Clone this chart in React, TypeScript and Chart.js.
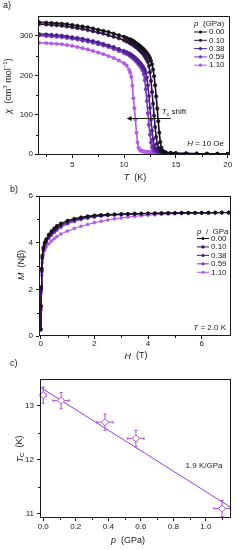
import React, { useEffect, useRef } from "react";
import { Chart, registerables } from "chart.js";

Chart.register(...registerables);

const FONT = "'Liberation Sans', Arial, Helvetica, sans-serif";
const INK = "#1a1a1a";

// ---------- Panel a : chi vs T ----------
const T_K = [
  1.8, 2.5, 3, 3.5, 4, 4.5, 5, 5.5, 6, 6.5, 7, 7.5, 8, 8.5, 9, 9.5, 10,
  10.25, 10.5, 10.6, 10.7, 10.8, 10.9, 11.0, 11.1, 11.2, 11.3, 11.4, 11.5, 11.6, 11.7, 11.8, 11.9,
  12.0, 12.1, 12.2, 12.3, 12.4, 12.5, 12.6, 12.7, 12.8, 12.9, 13.0, 13.1, 13.2, 13.3, 13.4, 13.5, 13.6, 13.7, 13.8,
  14, 14.5, 15, 16, 17, 18, 19, 20,
];
const CHI_P000 = [
  335, 334, 333, 332, 331, 330, 328, 326, 324, 322, 319, 316, 313, 310, 306, 302, 298,
  295, 292, 291, 290, 288, 287, 285, 283, 281, 279, 277, 275, 273, 271, 268, 266,
  263, 260, 257, 253, 249, 244, 237, 228, 215, 198, 175, 147, 116, 84, 55, 31, 17, 10, 7,
  5, 3.5, 2.5, 1.8, 1.3, 1, 0.8, 0.6,
];
const CHI_P010 = [
  330, 329, 328, 327, 326, 324, 322, 320, 318, 315, 312, 309, 306, 302, 298, 294, 289,
  286, 283, 282, 280, 279, 277, 275, 273, 271, 269, 267, 264, 262, 259, 256, 253,
  248, 244, 240, 234, 224, 208, 186, 158, 128, 98, 69, 44, 27, 17, 11, 8.5, 7, 6, 5.5,
  4.5, 3.5, 2.6, 1.9, 1.4, 1.1, 0.9, 0.7,
];
const CHI_P038 = [
  305, 304, 303, 302, 301, 299, 297, 295, 293, 290, 287, 284, 280, 276, 272, 267, 262,
  259, 256, 254, 252, 250, 248, 246, 244, 241, 239, 236, 233, 230, 227, 223, 219,
  214, 207, 195, 175, 148, 118, 88, 60, 38, 23, 15, 11, 9, 7.5, 6.5, 6, 5.5, 5, 4.5,
  4, 3, 2.2, 1.6, 1.2, 0.9, 0.7, 0.5,
];
const CHI_P059 = [
  301, 300, 299, 298, 297, 295, 293, 291, 288, 286, 283, 279, 276, 272, 267, 262, 257,
  254, 251, 249, 247, 245, 243, 240, 238, 235, 232, 229, 226, 222, 218, 212, 203,
  188, 165, 135, 104, 75, 50, 30, 18, 12, 9, 7.5, 6.5, 6, 5.5, 5, 4.8, 4.5, 4.3, 4,
  3.6, 2.8, 2.1, 1.5, 1.1, 0.9, 0.7, 0.5,
];
const CHI_P110 = [
  283, 282, 281, 280, 279, 277, 275, 272, 269, 266, 262, 258, 254, 249, 244, 238, 231,
  225, 214, 207, 196, 174, 142, 117, 88, 55, 30, 17, 12, 9.5, 8.5, 7.5, 7,
  6.5, 6.2, 6, 5.8, 5.6, 5.4, 5.2, 5, 4.9, 4.8, 4.6, 4.5, 4.4, 4.3, 4.2, 4.1, 4, 3.9, 3.8,
  3.6, 3, 2.4, 1.8, 1.4, 1.1, 0.9, 0.7,
];
const P_LABELS = ["0.00", "0.10", "0.38", "0.59", "1.10"];
const SERIES_COLORS = ["#141014", "#2c1448", "#4a2290", "#7a34c0", "#b45ae8"];
const X_TICKS_A = [5, 10, 15, 20];
const X_MINOR_A = [2.5, 7.5, 12.5, 17.5];
const Y_TICKS_A = [0, 100, 200, 300];
const Y_MINOR_A = [50, 150, 250];
const ARROW_T = [14.5, 10.25];
const ARROW_CHI = 93;

// ---------- Panel b : M vs H ----------
const H_T = [
  0, 0.01, 0.02, 0.04, 0.06, 0.1, 0.15, 0.2, 0.3, 0.4, 0.5, 0.6, 0.75,
  1.0, 1.25, 1.5, 1.75, 2.0, 2.25, 2.5, 2.75, 3.0, 3.25, 3.5, 3.75, 4.0, 4.25, 4.5, 4.75,
  5.0, 5.25, 5.5, 5.75, 6.0, 6.25, 6.5, 6.75, 7.0,
];
const M_P000 = [
  0.3, 1.3, 2.1, 2.9, 3.45, 3.8, 4.02, 4.15, 4.35, 4.5, 4.62, 4.72, 4.83,
  4.95, 5.03, 5.09, 5.14, 5.17, 5.19, 5.21, 5.22, 5.23, 5.24, 5.25, 5.25, 5.26, 5.26, 5.27, 5.27,
  5.27, 5.28, 5.28, 5.28, 5.28, 5.29, 5.29, 5.29, 5.29,
];
const M_P010 = [
  0.3, 1.28, 2.05, 2.85, 3.4, 3.75, 3.97, 4.1, 4.3, 4.45, 4.57, 4.67, 4.78,
  4.91, 5.0, 5.06, 5.11, 5.15, 5.18, 5.2, 5.21, 5.22, 5.23, 5.24, 5.25, 5.25, 5.26, 5.26, 5.27,
  5.27, 5.27, 5.28, 5.28, 5.28, 5.28, 5.29, 5.29, 5.29,
];
const M_P038 = [
  0.28, 1.25, 2.0, 2.8, 3.35, 3.7, 3.92, 4.05, 4.24, 4.38, 4.5, 4.6, 4.72,
  4.86, 4.96, 5.03, 5.08, 5.12, 5.15, 5.18, 5.2, 5.21, 5.22, 5.23, 5.24, 5.25, 5.25, 5.26, 5.26,
  5.27, 5.27, 5.27, 5.28, 5.28, 5.28, 5.28, 5.29, 5.29,
];
const M_P059 = [
  0.27, 1.2, 1.95, 2.75, 3.3, 3.65, 3.87, 4.0, 4.18, 4.32, 4.44, 4.54, 4.66,
  4.81, 4.91, 4.99, 5.05, 5.1, 5.14, 5.17, 5.19, 5.2, 5.21, 5.22, 5.23, 5.24, 5.25, 5.25, 5.26,
  5.26, 5.27, 5.27, 5.27, 5.28, 5.28, 5.28, 5.28, 5.29,
];
const M_P110 = [
  0.25, 1.1, 1.85, 2.6, 3.15, 3.5, 3.68, 3.8, 3.95, 4.07, 4.17, 4.26, 4.37,
  4.5, 4.61, 4.7, 4.78, 4.86, 4.92, 4.97, 5.02, 5.06, 5.1, 5.13, 5.16, 5.18, 5.2, 5.22, 5.23,
  5.24, 5.25, 5.26, 5.26, 5.27, 5.27, 5.28, 5.28, 5.28,
];
const X_TICKS_B = [0, 2, 4, 6];
const X_MINOR_B = [1, 3, 5];
const Y_TICKS_B = [0, 2, 4, 6];
const Y_MINOR_B = [1, 3, 5];

// ---------- Panel c : Tc vs p ----------
const P_GPA = [0.0, 0.11, 0.38, 0.57, 1.1];
const TC_K = [13.2, 13.1, 12.7, 12.4, 11.1];
const P_ERR = [0.02, 0.05, 0.05, 0.05, 0.05];
const TC_ERR = [0.15, 0.15, 0.15, 0.15, 0.15];
const FIT_P = [-0.02, 1.155];
const FIT_TC = [13.35, 11.12];
const X_TICKS_C = [0, 0.2, 0.4, 0.6, 0.8, 1.0];
const X_MINOR_C = [0.1, 0.3, 0.5, 0.7, 0.9, 1.1];
const Y_TICKS_C = [11, 12, 13];
const Y_MINOR_C = [11.5, 12.5];
const C_POINT = "#b24ee2";
const C_LINE = "#9a3ed8";

// ---------- helpers ----------
type Part = { t: string; i?: boolean; sub?: boolean; sup?: boolean };

function fontFor(p: Part, size: number) {
  const s = p.sub || p.sup ? size * 0.68 : size;
  return `${p.i ? "italic " : ""}${s}px ${FONT}`;
}

function drawRich(
  ctx: CanvasRenderingContext2D,
  parts: Part[],
  x: number,
  y: number,
  size: number,
  align: "left" | "center" | "right",
  rotate = 0
) {
  ctx.save();
  ctx.translate(x, y);
  if (rotate) ctx.rotate(rotate);
  const widths = parts.map((p) => {
    ctx.font = fontFor(p, size);
    return ctx.measureText(p.t).width;
  });
  const total = widths.reduce((a, b) => a + b, 0);
  let cx = align === "left" ? 0 : align === "center" ? -total / 2 : -total;
  ctx.textBaseline = "middle";
  ctx.textAlign = "left";
  ctx.fillStyle = INK;
  parts.forEach((p, k) => {
    ctx.font = fontFor(p, size);
    const dy = p.sub ? size * 0.3 : p.sup ? -size * 0.35 : 0;
    ctx.fillText(p.t, cx, dy);
    cx += widths[k];
  });
  ctx.restore();
}

function drawFrame(chart: any, minorX: number[], minorY: number[]) {
  const { ctx, chartArea: a, scales } = chart;
  ctx.save();
  ctx.strokeStyle = INK;
  ctx.lineWidth = 1;
  const x0 = Math.round(a.left) + 0.5;
  const x1 = Math.round(a.right) - 0.5;
  const y0 = Math.round(a.top) + 0.5;
  const y1 = Math.round(a.bottom) - 0.5;
  ctx.strokeRect(x0, y0, x1 - x0, y1 - y0);
  ctx.beginPath();
  minorX.forEach((v) => {
    const px = Math.round(scales.x.getPixelForValue(v)) + 0.5;
    ctx.moveTo(px, Math.round(a.bottom));
    ctx.lineTo(px, Math.round(a.bottom) + 2);
  });
  minorY.forEach((v) => {
    const py = Math.round(scales.y.getPixelForValue(v)) + 0.5;
    ctx.moveTo(Math.round(a.left), py);
    ctx.lineTo(Math.round(a.left) - 2, py);
  });
  ctx.stroke();
  ctx.restore();
}

function drawLegend(ctx: CanvasRenderingContext2D, title: Part[], x: number, yTitle: number, y0: number, step: number, lineLen: number) {
  drawRich(ctx, title, x, yTitle, 8, "left");
  P_LABELS.forEach((lab, k) => {
    const y = y0 + k * step;
    ctx.save();
    ctx.strokeStyle = SERIES_COLORS[k];
    ctx.fillStyle = SERIES_COLORS[k];
    ctx.lineWidth = 1;
    ctx.beginPath();
    ctx.moveTo(x, y);
    ctx.lineTo(x + lineLen, y);
    ctx.stroke();
    ctx.beginPath();
    ctx.arc(x + lineLen / 2, y, 1.6, 0, Math.PI * 2);
    ctx.fill();
    ctx.restore();
    drawRich(ctx, [{ t: lab }], x + lineLen + 2, y, 8, "left");
  });
}

function axis(min: number, max: number, ticks: number[], size: number, horizontal: boolean, pad: number, fmt?: (v: number) => string) {
  const t: any = {
    color: INK,
    font: { family: FONT, size: 8, lineHeight: 1 },
    padding: pad,
    maxRotation: 0,
    minRotation: 0,
    autoSkip: false,
  };
  if (fmt) t.callback = (v: any) => fmt(Number(v));
  return {
    type: "linear",
    min,
    max,
    bounds: "data",
    afterBuildTicks: (s: any) => {
      s.ticks = ticks.map((v) => ({ value: v }));
    },
    afterFit: (s: any) => {
      if (horizontal) s.height = size;
      else s.width = size;
    },
    grid: { drawOnChartArea: false, drawTicks: true, tickLength: 3, color: INK, lineWidth: 1 },
    border: { display: false },
    ticks: t,
    title: { display: false },
  };
}

function seriesDatasets(xs: number[], ys: number[][], radius: number, lineW: number) {
  return ys.map((arr, k) => ({
    label: P_LABELS[k],
    data: xs.map((x, i) => ({ x, y: arr[i] })),
    showLine: true,
    borderColor: SERIES_COLORS[k],
    backgroundColor: SERIES_COLORS[k],
    borderWidth: lineW,
    pointRadius: radius,
    pointBorderWidth: 0.6,
    pointBorderColor: SERIES_COLORS[k],
    pointBackgroundColor: SERIES_COLORS[k],
    tension: 0,
  }));
}

const baseOptions = {
  responsive: false,
  maintainAspectRatio: false,
  animation: false,
  devicePixelRatio: 1,
  events: [],
};

function buildA() {
  return {
    type: "scatter",
    data: {
      datasets: seriesDatasets(T_K, [CHI_P000, CHI_P010, CHI_P038, CHI_P059, CHI_P110], 1.7, 1.6),
    },
    options: {
      ...baseOptions,
      layout: { padding: { left: 0, right: 10, top: 16, bottom: 0 } },
      scales: {
        x: axis(1.7, 20.22, X_TICKS_A, 27, true, 3),
        y: axis(-1.8, 350.7, Y_TICKS_A, 38, false, 2),
      },
      plugins: { legend: { display: false }, tooltip: { enabled: false } },
    },
    plugins: [
      {
        id: "decoA",
        afterDraw(chart: any) {
          const { ctx, chartArea: a, scales } = chart;
          drawFrame(chart, X_MINOR_A, Y_MINOR_A);
          drawRich(ctx, [{ t: "a)" }], 3, 6, 9, "left");
          drawRich(ctx, [{ t: "T", i: true }, { t: "  (K)" }], 135, 177.5, 9, "center");
          drawRich(
            ctx,
            [{ t: "χ", i: true }, { t: "  (cm" }, { t: "3", sup: true }, { t: " mol" }, { t: "−1", sup: true }, { t: ")" }],
            8.5,
            86,
            9,
            "center",
            -Math.PI / 2
          );
          drawLegend(ctx, [{ t: "p", i: true }, { t: "  (GPa)" }], 194, 23.3, 32, 8.3, 13);
          drawRich(ctx, [{ t: "H", i: true }, { t: " = 10 Oe" }], a.right - 6, a.bottom - 11, 8, "right");
          // Tc shift arrow
          const xa = scales.x.getPixelForValue(ARROW_T[0]);
          const xb = scales.x.getPixelForValue(ARROW_T[1]);
          const ya = Math.round(scales.y.getPixelForValue(ARROW_CHI)) + 0.5;
          ctx.save();
          ctx.strokeStyle = INK;
          ctx.fillStyle = INK;
          ctx.lineWidth = 1;
          ctx.beginPath();
          ctx.moveTo(xa, ya);
          ctx.lineTo(xb + 4, ya);
          ctx.stroke();
          ctx.beginPath();
          ctx.moveTo(xb, ya);
          ctx.lineTo(xb + 5, ya - 2.5);
          ctx.lineTo(xb + 5, ya + 2.5);
          ctx.closePath();
          ctx.fill();
          ctx.restore();
          drawRich(
            ctx,
            [{ t: "T", i: true }, { t: "c", sub: true }, { t: " shift" }],
            scales.x.getPixelForValue(13.63),
            scales.y.getPixelForValue(108),
            8,
            "left"
          );
        },
      },
    ],
  };
}

function buildB() {
  return {
    type: "scatter",
    data: {
      datasets: seriesDatasets(H_T, [M_P000, M_P010, M_P038, M_P059, M_P110], 1.5, 1.1),
    },
    options: {
      ...baseOptions,
      layout: { padding: { left: 0, right: 9, top: 14, bottom: 0 } },
      scales: {
        x: axis(-0.063, 7.09, X_TICKS_B, 26, true, 1),
        y: axis(0, 6, Y_TICKS_B, 39, false, 3),
      },
      plugins: { legend: { display: false }, tooltip: { enabled: false } },
    },
    plugins: [
      {
        id: "decoB",
        afterDraw(chart: any) {
          const { ctx, chartArea: a } = chart;
          drawFrame(chart, X_MINOR_B, Y_MINOR_B);
          drawRich(ctx, [{ t: "b)" }], 10, 8, 9, "left");
          drawRich(ctx, [{ t: "H", i: true }, { t: "  (T)" }], 136, 174, 9, "center");
          drawRich(ctx, [{ t: "M", i: true }, { t: "  (Nβ)" }], 21.5, 83, 9, "center", -Math.PI / 2);
          drawLegend(ctx, [{ t: "p", i: true }, { t: "  /  GPa" }], 197, 49.5, 56.5, 8.45, 12);
          drawRich(ctx, [{ t: "T", i: true }, { t: " = 2.0 K" }], a.right - 5, a.bottom - 8.5, 8, "right");
        },
      },
    ],
  };
}

function buildC() {
  return {
    type: "scatter",
    data: {
      datasets: [
        {
          label: "Tc",
          data: P_GPA.map((x, i) => ({ x, y: TC_K[i] })),
          showLine: false,
          pointStyle: "rectRot",
          pointRadius: 3.6,
          pointBorderWidth: 1,
          pointBorderColor: C_POINT,
          pointBackgroundColor: "#ffffff",
        },
        {
          label: "fit",
          data: FIT_P.map((x, i) => ({ x, y: FIT_TC[i] })),
          showLine: true,
          borderColor: C_LINE,
          borderWidth: 1,
          pointRadius: 0,
        },
      ],
    },
    options: {
      ...baseOptions,
      layout: { padding: { left: 0, right: 9, top: 24, bottom: 0 } },
      scales: {
        x: axis(-0.02, 1.155, X_TICKS_C, 32, true, 2, (v) => v.toFixed(1)),
        y: axis(10.925, 13.5, Y_TICKS_C, 40, false, 3, (v) => String(Math.round(v))),
      },
      plugins: { legend: { display: false }, tooltip: { enabled: false } },
    },
    plugins: [
      {
        id: "decoC",
        beforeDatasetsDraw(chart: any) {
          const { ctx, scales } = chart;
          ctx.save();
          ctx.strokeStyle = C_POINT;
          ctx.lineWidth = 1;
          ctx.beginPath();
          P_GPA.forEach((p, i) => {
            const cx = scales.x.getPixelForValue(p);
            const cy = scales.y.getPixelForValue(TC_K[i]);
            const xl = scales.x.getPixelForValue(p - P_ERR[i]);
            const xr = scales.x.getPixelForValue(p + P_ERR[i]);
            const yt = scales.y.getPixelForValue(TC_K[i] + TC_ERR[i]);
            const yb = scales.y.getPixelForValue(TC_K[i] - TC_ERR[i]);
            ctx.moveTo(xl, cy);
            ctx.lineTo(xr, cy);
            ctx.moveTo(xl, cy - 1.5);
            ctx.lineTo(xl, cy + 1.5);
            ctx.moveTo(xr, cy - 1.5);
            ctx.lineTo(xr, cy + 1.5);
            ctx.moveTo(cx, yt);
            ctx.lineTo(cx, yb);
            ctx.moveTo(cx - 1.5, yt);
            ctx.lineTo(cx + 1.5, yt);
            ctx.moveTo(cx - 1.5, yb);
            ctx.lineTo(cx + 1.5, yb);
          });
          ctx.stroke();
          ctx.restore();
        },
        afterDraw(chart: any) {
          const { ctx } = chart;
          drawFrame(chart, X_MINOR_C, Y_MINOR_C);
          drawRich(ctx, [{ t: "c)" }], 10, 8.3, 9, "left");
          drawRich(ctx, [{ t: "p", i: true }, { t: "  (GPa)" }], 128, 185.7, 9, "center");
          drawRich(ctx, [{ t: "T", i: true }, { t: "C", sub: true }, { t: "  (K)" }], 20, 94, 9, "center", -Math.PI / 2);
          drawRich(ctx, [{ t: "1.9 K/GPa" }], 204, 111, 8, "center");
        },
      },
    ],
  };
}

function Panel({ top, height, build }: { top: number; height: number; build: () => any }) {
  const ref = useRef<HTMLCanvasElement>(null);
  useEffect(() => {
    if (!ref.current) return;
    const chart = new Chart(ref.current, build());
    return () => chart.destroy();
  }, [build]);
  return (
    <canvas
      ref={ref}
      width={240}
      height={height}
      style={{ position: "absolute", left: 0, top, width: 240, height, display: "block" }}
    />
  );
}

export default function App() {
  return (
    <div style={{ position: "absolute", left: 0, top: 0, width: 240, height: 550, background: "#ffffff", overflow: "hidden" }}>
      <Panel top={0} height={182} build={buildA} />
      <Panel top={182} height={180} build={buildB} />
      <Panel top={355} height={195} build={buildC} />
    </div>
  );
}
